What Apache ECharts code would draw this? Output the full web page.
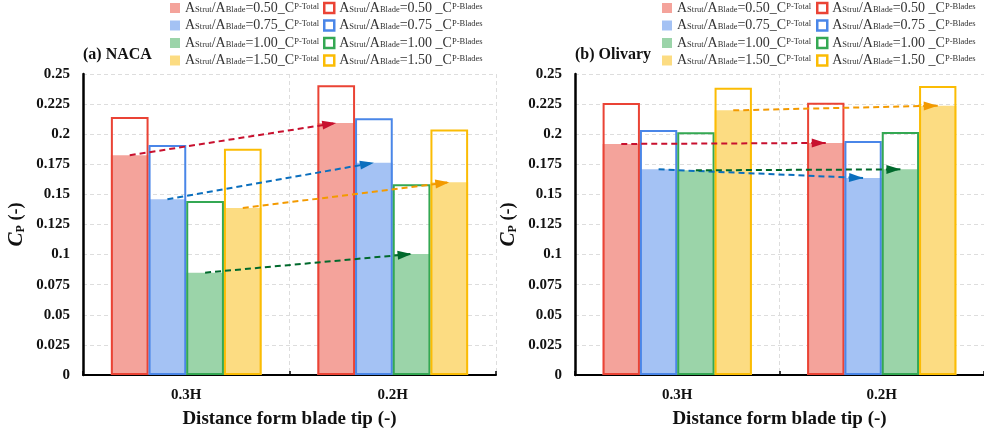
<!DOCTYPE html>
<html>
<head>
<meta charset="utf-8">
<script src="https://cdn.jsdelivr.net/npm/echarts@6/dist/echarts.min.js"></script>
<style>html,body{margin:0;padding:0;background:#fff;}#c{width:984px;height:434px;}</style>
</head>
<body>
<div id="c"></div>
<script>
// ---- data ----
const categories = ['0.3H', '0.2H'];
const ratios = ['0.50', '0.75', '1.00', '1.50'];
const yTicks = [0, 0.025, 0.05, 0.075, 0.1, 0.125, 0.15, 0.175, 0.2, 0.225, 0.25];

// (a) NACA
const nacaTotal050 = [0.1825, 0.2093];
const nacaTotal075 = [0.1460, 0.1763];
const nacaTotal100 = [0.0850, 0.1005];
const nacaTotal150 = [0.1387, 0.1600];
const nacaBlades050 = [0.2143, 0.2406];
const nacaBlades075 = [0.1910, 0.2132];
const nacaBlades100 = [0.1445, 0.1584];
const nacaBlades150 = [0.1880, 0.2040];

// (b) Olivary
const oliTotal050 = [0.1919, 0.1927];
const oliTotal075 = [0.1708, 0.1636];
const oliTotal100 = [0.1700, 0.1708];
const oliTotal150 = [0.2198, 0.2237];
const oliBlades050 = [0.2259, 0.2262];
const oliBlades075 = [0.2035, 0.1944];
const oliBlades100 = [0.2016, 0.2018];
const oliBlades150 = [0.2386, 0.2400];

const panelTitles = ['(a) NACA', '(b) Olivary'];
const xName = 'Distance form blade tip (-)';

// ---- styles ----
const fillColors = ['#F4A39B', '#A4C2F4', '#9BD4A9', '#FCDC82'];
const borderColors = ['#EA4335', '#4A86E8', '#34A853', '#FBBC04'];
const arrowColors = ['#C8102E', '#0B6FBE', '#00692C', '#F39A00'];
const serif = 'Liberation Serif';
// arrow head: triangle whose tip sits at the symbol centre (invisible point pads the box)
const arrowHead = 'path://M0,28 L5,14 L10,28 Z M5,0 L5,0.01';

const panels = [
  { total: [nacaTotal050, nacaTotal075, nacaTotal100, nacaTotal150],
    blades: [nacaBlades050, nacaBlades075, nacaBlades100, nacaBlades150] },
  { total: [oliTotal050, oliTotal075, oliTotal100, oliTotal150],
    blades: [oliBlades050, oliBlades075, oliBlades100, oliBlades150] }
];

const gridPos = [
  { left: 83, top: 74, width: 413, height: 301 },
  { left: 575, top: 74, width: 409, height: 301 }
];

const totalName = r => 'A' + r + '_Total';
const bladesName = r => 'A' + r + '_Blades';

const legendRich = {
  a: { fontFamily: serif, fontSize: 14, color: '#333', lineHeight: 12 },
  s: { fontFamily: serif, fontSize: 8.5, color: '#333', verticalAlign: 'bottom', lineHeight: 12 },
  p: { fontFamily: serif, fontSize: 8.5, color: '#333', verticalAlign: 'top', lineHeight: 12 }
};
function legendFormatter(name) {
  const parts = name.split('_');
  const r = parts[0].slice(1);
  const t = parts[1] === 'Total' ? 'P-Total' : 'P-Blades';
  const gap = parts[1] === 'Total' ? '' : ' ';
  return '{a|A}{s|Strut}{a|/A}{s|Blade}{a|=' + r + gap + '_C}{p|' + t + '}';
}

const grids = [], xAxes = [], yAxes = [], series = [], legends = [], titles = [];
const legendX = [[170, 323], [662, 816]];

panels.forEach((p, gi) => {
  grids.push(Object.assign({ containLabel: false, outerBoundsMode: 'none' }, gridPos[gi]));
  titles.push({
    text: panelTitles[gi], left: gridPos[gi].left, top: 47, padding: 0,
    textStyle: { fontFamily: serif, fontSize: 16, fontWeight: 'bold', color: '#111' }
  });
  xAxes.push({
    type: 'category', gridIndex: gi, data: categories,
    axisLine: { lineStyle: { color: '#000', width: 2 } },
    axisTick: { show: true, inside: true, length: 4, lineStyle: { color: '#000', width: 1.5 } },
    axisLabel: { fontFamily: serif, fontSize: 15, fontWeight: 'bold', color: '#111', margin: 13 },
    splitLine: { show: true, lineStyle: { color: '#ddd', type: [4, 3], width: 1 } },
    name: xName, nameLocation: 'middle', nameGap: 35,
    nameTextStyle: { fontFamily: serif, fontSize: 19, fontWeight: 'bold', color: '#111' }
  });
  xAxes.push({
    type: 'category', gridIndex: gi, data: categories, show: false, position: 'bottom'
  });
  yAxes.push({
    type: 'value', gridIndex: gi, min: 0, max: 0.25, interval: 0.025,
    axisLine: { show: true, lineStyle: { color: '#000', width: 2.5 } },
    axisTick: { show: false },
    axisLabel: { fontFamily: serif, fontSize: 15, fontWeight: 'bold', color: '#111', margin: 13,
      formatter: v => String(+v.toFixed(3)) },
    splitLine: { show: true, lineStyle: { color: '#ddd', type: [4, 3], width: 1 } },
    name: '{c|C}{p|P}{n| (-)}', nameLocation: 'middle', nameGap: 56, nameRotate: 90,
    nameTextStyle: {
      rich: {
        c: { fontFamily: serif, fontSize: 21, fontStyle: 'italic', fontWeight: 'bold', color: '#111' },
        p: { fontFamily: serif, fontSize: 12, fontWeight: 'bold', color: '#111', verticalAlign: 'bottom' },
        n: { fontFamily: serif, fontSize: 18, fontWeight: 'bold', color: '#111' }
      }
    }
  });
  const xa = gi * 2, xb = gi * 2 + 1;
  ratios.forEach((r, i) => {
    const tot = p.total[i];
    series.push({
      type: 'bar', name: totalName(r), xAxisIndex: xa, yAxisIndex: gi,
      data: tot, barGap: 0, barCategoryGap: '27%',
      itemStyle: { color: fillColors[i] }, z: 2,
      markLine: {
        silent: true, symbol: ['none', arrowHead], symbolSize: [9, 28],
        label: { show: false },
        lineStyle: { color: arrowColors[i], width: 2, type: [6, 4] },
        itemStyle: { color: arrowColors[i] },
        z: 5,
        data: [[{ coord: [categories[0], tot[0]] }, { coord: [categories[1], tot[1]] }]]
      }
    });
  });
  ratios.forEach((r, i) => {
    series.push({
      type: 'bar', name: bladesName(r), xAxisIndex: xb, yAxisIndex: gi,
      data: p.blades[i], barGap: 0, barCategoryGap: '27%',
      itemStyle: { color: 'rgba(0,0,0,0)', borderColor: borderColors[i], borderWidth: 2 }, z: 3
    });
  });
  legends.push({
    orient: 'vertical', left: legendX[gi][0], top: 1, padding: 0, itemWidth: 10, itemHeight: 10, itemGap: 3.5,
    selectedMode: false, icon: 'rect',
    data: ratios.map((r, i) => ({ name: totalName(r), itemStyle: { color: fillColors[i], borderWidth: 0 } })),
    formatter: legendFormatter, textStyle: { rich: legendRich }
  });
  legends.push({
    orient: 'vertical', left: legendX[gi][1], top: 1, padding: 0, itemWidth: 10, itemHeight: 10, itemGap: 3.5,
    selectedMode: false, icon: 'rect',
    data: ratios.map((r, i) => ({ name: bladesName(r), itemStyle: { color: '#fff', borderColor: borderColors[i], borderWidth: 2.5 } })),
    formatter: legendFormatter, textStyle: { rich: legendRich }
  });
});

const chart = echarts.init(document.getElementById('c'), null, { renderer: 'canvas' });
chart.setOption({
  animation: false,
  backgroundColor: '#fff',
  title: titles,
  legend: legends,
  grid: grids,
  xAxis: xAxes,
  yAxis: yAxes,
  series: series
});
</script>
</body>
</html>
